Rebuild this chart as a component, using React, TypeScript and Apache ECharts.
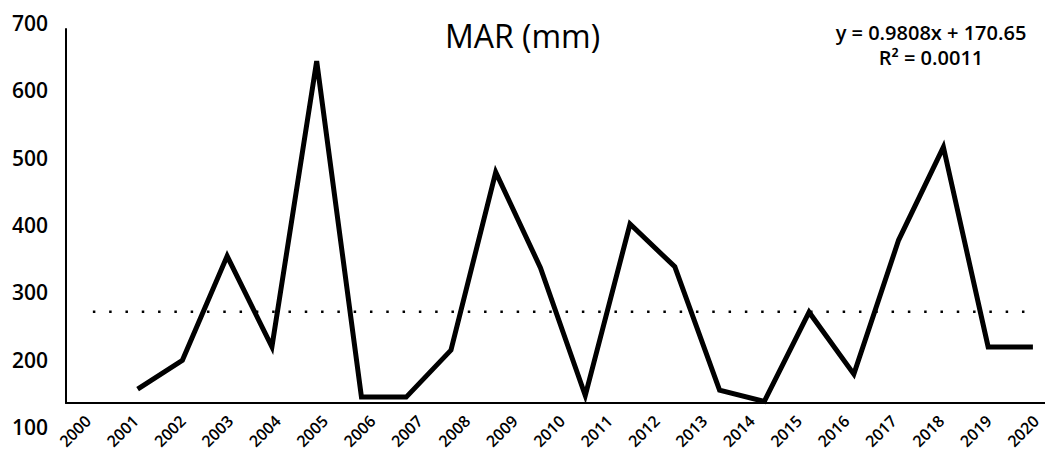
import React, { useEffect, useRef } from "react";
import * as echarts from "echarts";

// Category labels on the x axis
const xLabels = [
  "2000", "2001", "2002", "2003", "2004", "2005", "2006", "2007", "2008", "2009", "2010",
  "2011", "2012", "2013", "2014", "2015", "2016", "2017", "2018", "2019", "2020",
];
// Years of the plotted observations
const years = [
  2000, 2001, 2002, 2003, 2004, 2005, 2006, 2007, 2008, 2009, 2010,
  2011, 2012, 2013, 2014, 2015, 2016, 2017, 2018, 2019, 2020,
];
// MAR (mm) values
const marValues = [
  26, 80, 275, 105, 640, 11, 11, 99, 432, 253, 14,
  335, 255, 24, 3, 170, 54, 305, 479, 105, 105,
];
// Trend line (drawn as a dotted line)
const trendYears = [1999, 2020];
const trendValues = [171, 171];

const FONT = "'Open Sans', 'Noto Sans', sans-serif";

export default function App() {
  const ref = useRef<HTMLDivElement>(null);

  useEffect(() => {
    if (!ref.current) return;
    const chart = echarts.init(ref.current, null, { renderer: "svg" });
    chart.setOption({
      animation: false,
      backgroundColor: "#fff",
      title: {
        text: "MAR (mm)",
        left: "center",
        top: 14,
        textStyle: { fontSize: 32, fontWeight: "normal", fontFamily: FONT, color: "#000" },
      },
      graphic: [
        {
          type: "text",
          x: 931,
          y: 20,
          style: {
            text: "y = 0.9808x + 170.65\nR² = 0.0011",
            align: "center",
            textAlign: "center",
            verticalAlign: "top",
            fontSize: 20,
            fontWeight: 600,
            fontFamily: FONT,
            lineHeight: 25,
            fill: "#000",
          },
        },
      ],
      grid: [
        { left: 66, top: 29, right: 0, bottom: 49 },
        { left: 52, top: 23, width: 1, bottom: 25 },
        { left: 88, right: 9, top: 412, height: 1 },
      ],
      xAxis: [
        {
          gridIndex: 0,
          type: "value",
          min: 1998.4,
          max: 2020.27,
          axisLine: { show: true, onZero: false, lineStyle: { color: "#000", width: 2 } },
          axisTick: { show: false },
          axisLabel: { show: false },
          splitLine: { show: false },
        },
        { gridIndex: 1, type: "value", show: false },
        {
          gridIndex: 2,
          type: "category",
          data: xLabels,
          boundaryGap: false,
          axisLine: { show: false },
          axisTick: { show: false },
          splitLine: { show: false },
          axisLabel: {
            rotate: 45,
            margin: 5,
            interval: 0,
            fontSize: 16,
            fontWeight: 600,
            fontFamily: FONT,
            color: "#000",
          },
        },
      ],
      yAxis: [
        {
          gridIndex: 0,
          type: "value",
          min: 0,
          max: 700,
          axisLine: { show: true, onZero: false, lineStyle: { color: "#000", width: 2 } },
          axisTick: { show: false },
          axisLabel: { show: false },
          splitLine: { show: false },
        },
        {
          gridIndex: 1,
          type: "value",
          min: 100,
          max: 700,
          interval: 100,
          axisLine: { show: false },
          axisTick: { show: false },
          splitLine: { show: false },
          axisLabel: {
            margin: 4,
            fontSize: 21,
            fontWeight: 600,
            fontFamily: FONT,
            color: "#000",
          },
        },
        { gridIndex: 2, type: "value", show: false },
      ],
      series: [
        {
          type: "line",
          xAxisIndex: 0,
          yAxisIndex: 0,
          data: trendYears.map((y, i) => [y, trendValues[i]]),
          symbol: "none",
          lineStyle: { color: "#000", width: 2.5, type: [2.5, 13.8] },
          z: 2,
        },
        {
          type: "line",
          xAxisIndex: 0,
          yAxisIndex: 0,
          data: years.map((y, i) => [y, marValues[i]]),
          symbol: "none",
          lineStyle: { color: "#000", width: 5, join: "miter", miterLimit: 10 },
          z: 3,
        },
      ],
    });
    return () => chart.dispose();
  }, []);

  return (
    <div
      ref={ref}
      style={{ position: "fixed", left: 0, top: 0, width: 1045, height: 452 }}
    />
  );
}
